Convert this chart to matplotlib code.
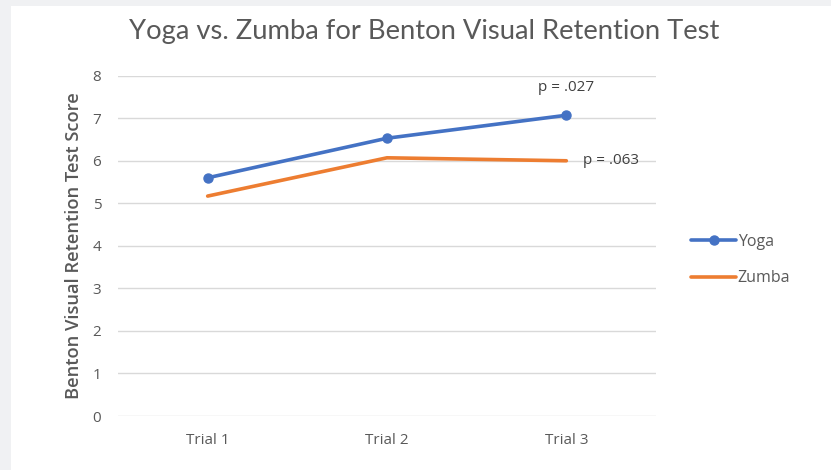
import matplotlib
matplotlib.use("Agg")
import matplotlib.pyplot as plt
from matplotlib.patches import Rectangle

categories = ["Trial 1", "Trial 2", "Trial 3"]
yoga = [5.6, 6.53, 7.07]
zumba = [5.17, 6.07, 6.0]
yticks = [0, 1, 2, 3, 4, 5, 6, 7, 8]
title = "Yoga vs. Zumba for Benton Visual Retention Test"
ylabel = "Benton Visual Retention Test Score"
p_yoga = "p = .027"
p_zumba = "p = .063"

plt.rcParams['font.family'] = ['Open Sans', 'DejaVu Sans']
TXT = "#595959"
W, H = 831, 470
fig = plt.figure(figsize=(W / 100, H / 100), dpi=100)
fig.patch.set_facecolor("white")
bg = "#f0f1f3"
fig.patches.append(Rectangle((0, 1 - 6 / H), 1, 6 / H, transform=fig.transFigure,
                             facecolor=bg, edgecolor="none", zorder=0))
fig.patches.append(Rectangle((0, 0), 11 / W, 1, transform=fig.transFigure,
                             facecolor=bg, edgecolor="none", zorder=0))

left, right, top, bottom = 118, 656, 75.7, 416
ax = fig.add_axes([left / W, 1 - bottom / H, (right - left) / W, (bottom - top) / H])
x = list(range(len(categories)))
ax.set_xlim(-0.5, len(categories) - 0.5)
ax.set_ylim(0, 8)
ax.set_yticks(yticks)
ax.set_xticks(x)
ax.set_xticklabels(categories)
ax.grid(axis="y", color="#d9d9d9", linewidth=1)
ax.set_axisbelow(True)
for s in ax.spines.values():
    s.set_visible(False)
ax.tick_params(length=0, colors=TXT, labelsize=11)
ax.tick_params(axis="x", pad=12)
ax.tick_params(axis="y", pad=12)

ax.plot(x, yoga, color="#4472C4", linewidth=2.6, marker="o", markersize=6.5,
        label="Yoga", solid_capstyle="round", zorder=3)
ax.plot(x, zumba, color="#ED7D31", linewidth=2.6, label="Zumba",
        solid_capstyle="round", zorder=3)

ax.annotate(p_yoga, (x[2], yoga[2]), xytext=(0, 20), textcoords="offset points",
            ha="center", va="center", fontsize=11, color="#404040")
ax.annotate(p_zumba, (x[2], zumba[2]), xytext=(12, 0), textcoords="offset points",
            ha="left", va="center", fontsize=11, color="#404040")

ax.set_ylabel(ylabel, fontsize=13.2, color=TXT, labelpad=7, fontweight="semibold")

fig.text(424 / W, 1 - 31 / H, title, ha="center", va="center", fontsize=19.7,
         color=TXT, family=['Lato', 'DejaVu Sans'])

leg = fig.legend(loc="center left", bbox_to_anchor=(677 / W, 1 - 260 / H),
                 frameon=False, fontsize=11.5, handlelength=2.8, handletextpad=0.1,
                 labelspacing=1.3, labelcolor=TXT)

fig.savefig("out.png", dpi=100)
